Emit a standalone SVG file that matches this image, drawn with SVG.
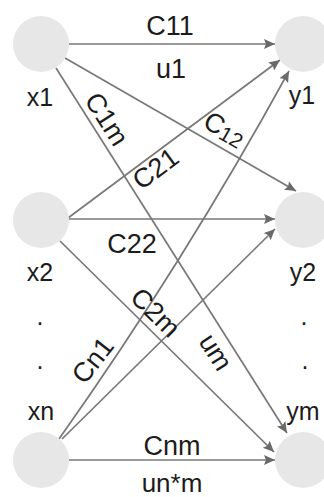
<svg xmlns="http://www.w3.org/2000/svg" width="324" height="497" viewBox="0 0 324 497">
  <style>
    .node { fill: #e7e7e7; stroke: none; }
    .edge { fill: none; stroke: #787878; stroke-width: 1.7; marker-end: url(#arrow); }
    .t { font-family: "Liberation Sans", Arial, sans-serif; fill: #1c1c1c; text-anchor: middle; }
    .nl { font-size: 25px; }
    .el { font-size: 27px; }
    .sub { font-size: 21px; }
  </style>
  <defs>
    <marker id="arrow" markerUnits="userSpaceOnUse" markerWidth="12" markerHeight="11" refX="11" refY="5" orient="auto">
      <path d="M0,0 L11,5 L0,10 L2,5 Z" fill="#6a6a6a"/>
    </marker>
  </defs>
  <rect width="324" height="497" fill="#ffffff"/>

  <g id="connectors">
    <path class="edge" d="M69,44 L275,44"/>
    <path class="edge" d="M65,58 L296,191"/>
    <path class="edge" d="M56,68 L287,433"/>
    <path class="edge" d="M68,218 L280,60"/>
    <path class="edge" d="M69,219 L275,219"/>
    <path class="edge" d="M60,241 L274,452"/>
    <path class="edge" d="M59,439 Q185,261 289,71"/>
    <path class="edge" d="M62,439 L275,229"/>
    <path class="edge" d="M69,460 L275,460"/>
  </g>

  <g id="edge-labels">
    <text class="t el" x="170" y="35">C11</text>
    <text class="t el" x="171" y="78">u1</text>
    <text class="t el" transform="translate(99,124) rotate(57.6)">C1m</text>
    <text class="t el" transform="translate(220,137) rotate(30)">C<tspan class="sub" dy="2">12</tspan></text>
    <text class="t el" transform="translate(161,176) rotate(-36.7)">C21</text>
    <text class="t el" x="132" y="253">C22</text>
    <text class="t el" transform="translate(149,319) rotate(44.6)">C2m</text>
    <text class="t el" transform="translate(208,357) rotate(57.6)">um</text>
    <text class="t el" transform="translate(100,366) rotate(-52)">Cn1</text>
    <text class="t el" x="172" y="455">Cnm</text>
    <text class="t" style="font-size:26px" x="172" y="492">un*m</text>
  </g>

  <g id="node-x1">
    <circle class="node" cx="41" cy="44" r="28"/>
    <text class="t nl" x="40" y="106">x1</text>
  </g>
  <g id="node-x2">
    <circle class="node" cx="41" cy="220" r="28"/>
    <text class="t nl" x="40" y="281">x2</text>
  </g>
  <g id="node-xn">
    <circle class="node" cx="41" cy="460" r="28"/>
    <text class="t nl" x="41" y="420">xn</text>
  </g>
  <g id="node-y1">
    <circle class="node" cx="303" cy="44" r="28"/>
    <text class="t nl" x="302" y="104">y1</text>
  </g>
  <g id="node-y2">
    <circle class="node" cx="303" cy="220" r="28"/>
    <text class="t nl" x="303" y="281">y2</text>
  </g>
  <g id="node-ym">
    <circle class="node" cx="303" cy="460" r="28"/>
    <text class="t nl" x="303" y="420">ym</text>
  </g>

  <g id="ellipsis">
    <text class="t nl" x="40" y="325">.</text>
    <text class="t nl" x="40" y="369">.</text>
    <text class="t nl" x="304" y="325">.</text>
    <text class="t nl" x="305" y="369">.</text>
  </g>
</svg>
